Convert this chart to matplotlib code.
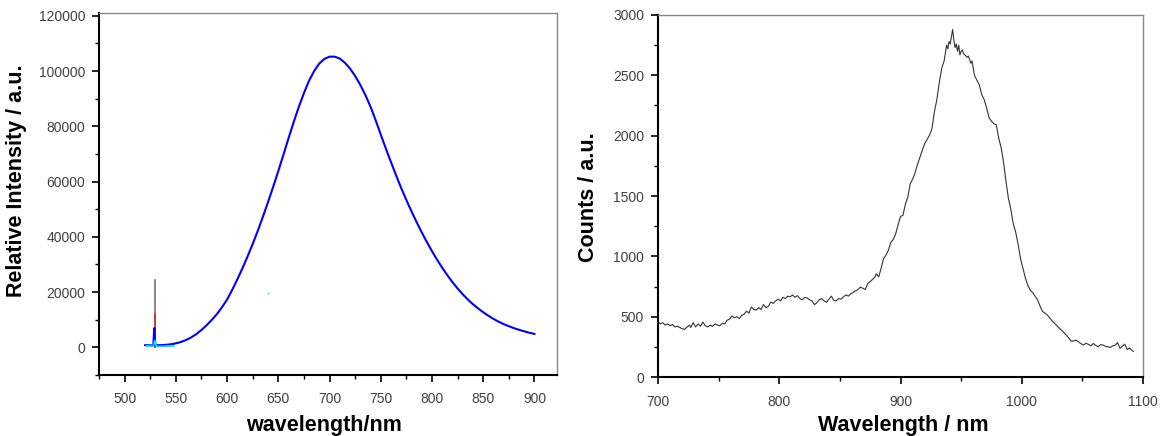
import matplotlib
matplotlib.use("Agg")
import matplotlib.pyplot as plt
from matplotlib.ticker import MultipleLocator

plt.rcParams['font.family'] = ['Liberation Sans', 'DejaVu Sans']

# ---- left panel: emission spectrum (blue) plus excitation spike traces ----
wl_blue = [520, 522, 525, 528, 529, 530, 533, 536, 540, 545, 550, 555, 560, 565, 570,
           575, 580, 585, 590, 595, 600, 605, 610, 615, 620, 625, 630, 635, 640, 645,
           650, 655, 660, 665, 670, 675, 680, 685, 690, 695, 700, 705, 710, 715, 720,
           725, 730, 735, 740, 745, 750, 755, 760, 765, 770, 775, 780, 785, 790, 795,
           800, 805, 810, 815, 820, 825, 830, 835, 840, 845, 850, 855, 860, 865, 870,
           875, 880, 885, 890, 895, 900]
int_blue = [800, 760, 720, 740, 7000, 780, 800, 820, 900, 1100, 1450, 1950, 2650, 3600, 4800,
            6300, 8000, 9900, 12000, 14500, 17300, 20800, 24600, 28600, 32900, 37400, 42200, 47300, 52600, 58100,
            63800, 69700, 75700, 81500, 87000, 92000, 96500, 100000, 102700, 104400, 105200, 105200, 104500, 103000, 100900,
            98200, 95000, 91300, 87100, 82200, 77000, 71900, 67000, 62200, 57600, 53300, 49200, 45300, 41600, 38100,
            34800, 31700, 28800, 26100, 23600, 21300, 19200, 17300, 15600, 14100, 12700, 11450, 10300, 9300, 8400,
            7650, 6950, 6350, 5800, 5300, 4850]

wl_gray = [529.5, 529.5]
int_gray = [0, 24500]
wl_red = [529.5, 529.5]
int_red = [0, 12000]
wl_cyan = [521, 525, 528, 529.5, 531, 535, 540, 545, 548]
int_cyan = [500, 450, 400, 2500, 350, 380, 420, 450, 500]
wl_cyan_dot = [639.5]
int_cyan_dot = [19500]

# ---- right panel: NIR emission ----
wl_nir = [700, 702, 704, 706, 708, 710, 712, 714, 716, 718, 720, 722, 724, 726, 727,
          729, 731, 733, 735, 737, 739, 741, 743, 745, 747, 749, 751, 753, 755, 757,
          759, 761, 763, 765, 767, 769, 771, 773, 775, 777, 779, 781, 783, 785, 787,
          789, 791, 793, 795, 797, 799, 801, 803, 805, 807, 809, 811, 813, 815, 817,
          819, 821, 823, 825, 827, 829, 831, 833, 835, 837, 839, 841, 843, 845, 847,
          849, 851, 853, 855, 857, 859, 861, 863, 865, 867, 869, 871, 873, 875, 877,
          879, 880, 882, 884, 886, 888, 890, 892, 894, 896, 898, 900, 902, 904, 906,
          908, 910, 912, 914, 916, 918, 920, 922, 924, 926, 928, 930, 932, 934, 936,
          938, 939, 940, 941, 943, 944, 945, 946, 947, 948, 949, 950, 951, 952, 953,
          955, 956, 957, 958, 959, 960, 961, 963, 965, 967, 969, 971, 973, 975, 977,
          979, 981, 983, 985, 987, 989, 991, 993, 995, 997, 999, 1001, 1003, 1005, 1007,
          1009, 1011, 1013, 1015, 1017, 1019, 1021, 1023, 1025, 1027, 1029, 1031, 1033, 1035, 1037,
          1039, 1041, 1043, 1045, 1047, 1049, 1051, 1053, 1055, 1057, 1059, 1061, 1063, 1065, 1067,
          1069, 1071, 1073, 1075, 1077, 1079, 1081, 1083, 1085, 1087, 1089, 1091, 1092]
counts_nir = [455, 440, 450, 430, 440, 425, 435, 415, 420, 410, 400, 395, 415, 430, 410,
              450, 415, 440, 420, 455, 425, 415, 430, 420, 440, 430, 425, 445, 440, 470,
              480, 505, 490, 500, 485, 510, 520, 545, 530, 580, 560, 555, 575, 560, 600,
              575, 585, 620, 610, 630, 645, 630, 660, 650, 670, 665, 680, 660, 675, 650,
              640, 660, 655, 640, 630, 600, 615, 640, 650, 630, 620, 645, 670, 635, 630,
              650, 645, 665, 680, 670, 690, 700, 715, 725, 745, 735, 725, 775, 790, 810,
              830, 855, 830, 900, 980, 1010, 1050, 1115, 1140, 1185, 1260, 1330, 1340, 1430, 1490,
              1600, 1640, 1690, 1760, 1820, 1880, 1935, 1970, 2005, 2060, 2200, 2300, 2440, 2560, 2620,
              2750, 2720, 2780, 2760, 2880, 2790, 2730, 2760, 2700, 2750, 2670, 2700, 2710, 2680, 2670,
              2650, 2660, 2630, 2600, 2620, 2560, 2500, 2460, 2420, 2340, 2300, 2230, 2150, 2120, 2100,
              2090, 1980, 1900, 1780, 1620, 1480, 1390, 1270, 1200, 1100, 980, 900, 820, 760, 720,
              700, 670, 640, 590, 545, 530, 515, 490, 465, 445, 425, 405, 385, 365, 345,
              320, 295, 300, 305, 290, 275, 265, 280, 270, 258, 278, 262, 250, 268, 265,
              255, 250, 245, 258, 262, 285, 238, 255, 272, 228, 240, 220, 212]

W, H = 1163, 436
fig = plt.figure(figsize=(W / 100, H / 100), dpi=100)
ax1 = fig.add_axes([99 / W, 1 - 375 / H, 458 / W, 362 / H])
ax2 = fig.add_axes([658 / W, 1 - 377 / H, 485 / W, 362 / H])

ax1.plot(wl_gray, int_gray, color='#808080', lw=1.3)
ax1.plot(wl_red, int_red, color='#e03030', lw=1.3)
ax1.plot(wl_blue, int_blue, color='#0000ff', lw=1.5)
ax1.plot(wl_cyan, int_cyan, color='#00e5ff', lw=1.2)
ax1.plot(wl_cyan_dot, int_cyan_dot, 's', color='#00e5ff', ms=1.2, mew=0)
ax1.set_xlim(475, 922)
ax1.set_ylim(-10000, 121000)
ax1.xaxis.set_major_locator(MultipleLocator(50))
ax1.xaxis.set_minor_locator(MultipleLocator(25))
ax1.yaxis.set_major_locator(MultipleLocator(20000))
ax1.yaxis.set_minor_locator(MultipleLocator(10000))

ax2.plot(wl_nir, counts_nir, color='#333333', lw=0.8)
ax2.set_xlim(700, 1100)
ax2.set_ylim(0, 3000)
ax2.xaxis.set_major_locator(MultipleLocator(100))
ax2.xaxis.set_minor_locator(MultipleLocator(50))
ax2.yaxis.set_major_locator(MultipleLocator(500))
ax2.yaxis.set_minor_locator(MultipleLocator(250))

for ax in (ax1, ax2):
    ax.spines['left'].set_linewidth(1.5)
    ax.spines['bottom'].set_linewidth(1.5)
    ax.spines['left'].set_color('black')
    ax.spines['bottom'].set_color('black')
    ax.spines['top'].set_color('#888888')
    ax.spines['right'].set_color('#888888')
    ax.spines['top'].set_linewidth(1.0)
    ax.spines['right'].set_linewidth(1.0)
    ax.tick_params(which='major', direction='out', length=5, width=1.2,
                   labelsize=10, labelcolor='#404040', pad=5)
    ax.tick_params(which='minor', direction='out', length=3, width=1.0)

ax1.tick_params(axis='x', which='major', pad=7)
ax2.tick_params(axis='x', which='major', pad=8)

fig.text(17 / W, 1 - 181 / H, 'Relative Intensity / a.u.', rotation=90,
         ha='center', va='center', fontsize=15.5, fontweight='bold')
fig.text(324 / W, 1 - 431 / H, 'wavelength/nm', ha='center', va='baseline',
         fontsize=15.5, fontweight='bold')
fig.text(589 / W, 1 - 197 / H, 'Counts / a.u.', rotation=90,
         ha='center', va='center', fontsize=15.5, fontweight='bold')
fig.text(903 / W, 1 - 431 / H, 'Wavelength / nm', ha='center', va='baseline',
         fontsize=15.5, fontweight='bold')

fig.savefig('out.png', dpi=100)
